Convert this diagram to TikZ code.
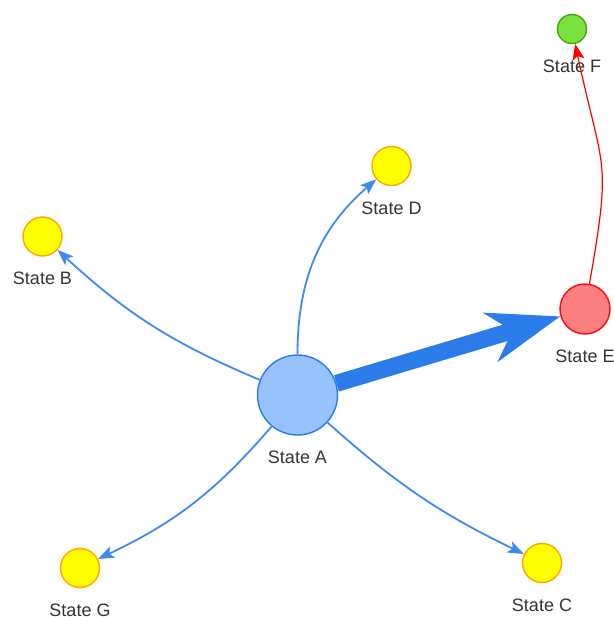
\documentclass[tikz,border=0pt]{standalone}
\usepackage{fontspec}
\setmainfont{Liberation Sans}
\usetikzlibrary{arrows.meta, positioning}

\definecolor{visblue}{HTML}{2B7CE9}
\definecolor{visline}{HTML}{3F8AEE}
\definecolor{vislight}{HTML}{97C2FC}
\definecolor{visyellow}{HTML}{FFFF00}
\definecolor{visorange}{HTML}{FFA500}
\definecolor{visred}{HTML}{FA0A10}
\definecolor{vispink}{HTML}{FB7E81}
\definecolor{visgreen}{HTML}{7BE141}
\definecolor{visdkgreen}{HTML}{41A906}
\definecolor{vistext}{HTML}{343434}

\begin{document}
\begin{tikzpicture}[
						x=0.5pt, y=0.5pt,
						node distance={7.5pt},
						bround/.style = {draw=visblue, fill=vislight, circle, line width=0.7pt, minimum size=40pt, inner sep=0pt},
						yround/.style = {draw=visorange, fill=visyellow, circle, line width=0.7pt, minimum size=19.5pt, inner sep=0pt},
						rround/.style = {draw=visred, fill=vispink, circle, line width=0.7pt, minimum size=25pt, inner sep=0pt},
						ground/.style = {draw=visdkgreen, fill=visgreen, circle, line width=0.7pt, minimum size=14.5pt, inner sep=0pt},
						lbl/.style = {text=vistext, inner sep=0pt, font=\fontsize{9}{11}\selectfont},
						link/.style = {draw=visline, line width=0.9pt, -{Stealth[length=8pt, width=6pt, inset=1.8pt]}},
						redlink/.style = {draw=red, line width=0.6pt, -{Stealth[length=8pt, width=6pt, inset=1.8pt]}},
						heavy/.style = {draw=visblue, line width=8.5pt, -{Stealth[length=36pt, width=25pt, inset=11pt]}}
					]
\useasboundingbox (0,0) rectangle (614,617);

\node[bround] (a) at (297.5,222) {};
\node[yround] (b) at (42.5,380.5) {};
\node[yround] (c) at (542,54) {};
\node[yround] (d) at (391.5,451) {};
\node[rround] (e) at (585,308) {};
\node[ground] (f) at (572,588) {};
\node[yround] (g) at (80,49) {};

\node[lbl] (la) [below=of a] {State A};
\node[lbl] (lb) [below=of b] {State B};
\node[lbl] (lc) [below=of c] {State C};
\node[lbl] (ld) [below=of d] {State D};
\node[lbl] (le) [below=of e] {State E};
\node[lbl] (lf) [below=of f] {State F};
\node[lbl] (lg) [below=of g] {State G};

\draw[heavy] (a) -- (e);
\draw[link] (a) to [bend left=10] (b);
\draw[link] (a) to [bend left=12] (g);
\draw[link] (a) to [bend right=8] (c);
\draw[link] (a) to [out=90, in=221] (d);
\draw[redlink] (e) to [out=80, in=-78, looseness=1.4] (f);
\end{tikzpicture}
\end{document}
